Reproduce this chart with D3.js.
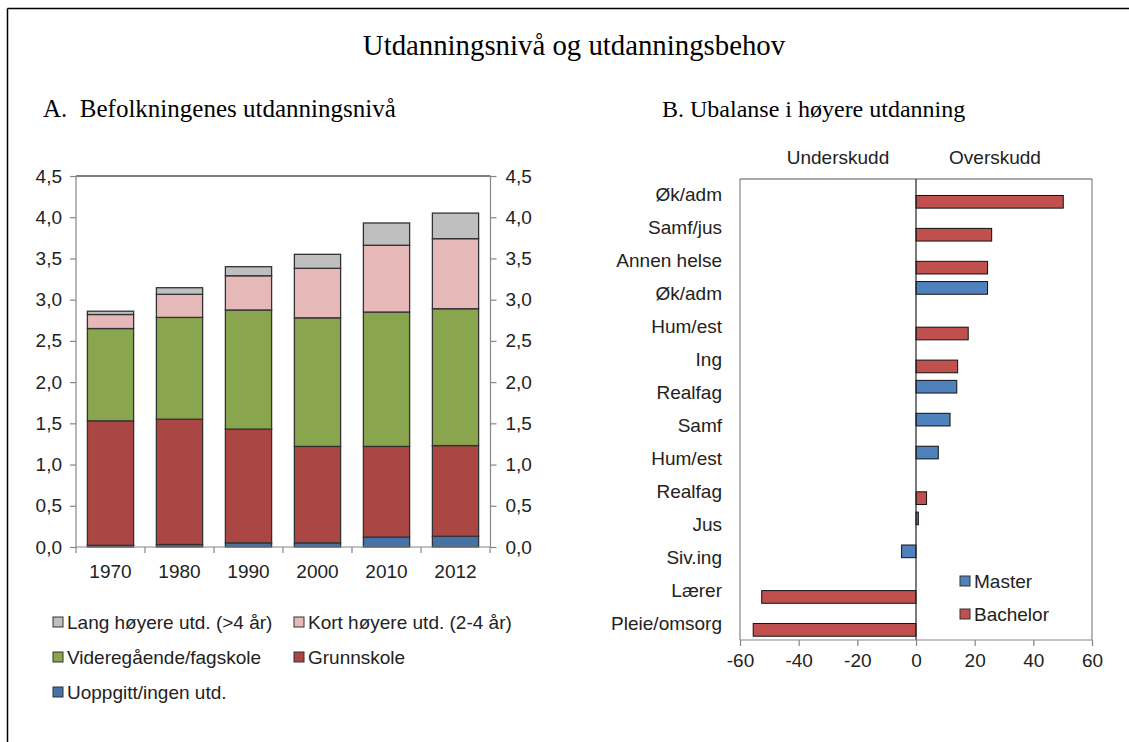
<!DOCTYPE html>
<html>
<head>
<meta charset="utf-8">
<script src="https://cdn.jsdelivr.net/npm/d3@7"></script>
<style>
  body { margin: 0; background: #fff; }
  svg { display: block; }
  .serif { font-family: "Liberation Serif", "Times New Roman", serif; fill: #000; }
  .sans { font-family: "Liberation Sans", Arial, sans-serif; fill: #222; font-size: 19px; }
</style>
</head>
<body>
<div id="chart"></div>
<script>
// panel A
var years = ["1970", "1980", "1990", "2000", "2010", "2012"];
var uoppgitt = [0.02, 0.03, 0.05, 0.05, 0.12, 0.13];
var grunnskole = [1.51, 1.52, 1.38, 1.17, 1.10, 1.10];
var videregaende = [1.12, 1.235, 1.445, 1.56, 1.63, 1.66];
var kortHoyere = [0.17, 0.28, 0.415, 0.60, 0.81, 0.85];
var langHoyere = [0.04, 0.08, 0.11, 0.17, 0.27, 0.31];
var yTicksA = [0, 0.5, 1, 1.5, 2, 2.5, 3, 3.5, 4, 4.5];

// panel B
var fag = ["Øk/adm", "Samf/jus", "Annen helse", "Øk/adm", "Hum/est", "Ing", "Realfag",
    "Samf", "Hum/est", "Realfag", "Jus", "Siv.ing", "Lærer", "Pleie/omsorg"];
var master = [null, null, null, 24.4, null, null, 13.9, 11.6, 7.6, null, 0.8, -4.9, null, null];
var bachelor = [50.2, 25.8, 24.4, null, 17.8, 14.2, null, null, null, 3.6, null, null, -52.6, -55.5];
var xTicksB = [-60, -40, -20, 0, 20, 40, 60];

var width = 1129, height = 742;

var svg = d3.select("#chart").append("svg")
    .attr("width", width)
    .attr("height", height);

// outer frame (top + left)
svg.append("line").attr("x1", 7.5).attr("x2", width).attr("y1", 8.5).attr("y2", 8.5)
    .style("stroke", "#000").style("stroke-width", 1.5);
svg.append("line").attr("x1", 7.5).attr("x2", 7.5).attr("y1", 8.5).attr("y2", height)
    .style("stroke", "#000").style("stroke-width", 1.5);

svg.append("text").attr("class", "serif")
    .attr("x", 574).attr("y", 55)
    .attr("text-anchor", "middle")
    .style("font-size", "28.8px")
    .text("Utdanningsnivå og utdanningsbehov");

svg.append("text").attr("class", "serif")
    .attr("x", 43).attr("y", 117)
    .style("font-size", "25px")
    .style("white-space", "pre")
    .text("A.  Befolkningenes utdanningsnivå");

svg.append("text").attr("class", "serif")
    .attr("x", 662).attr("y", 117)
    .style("font-size", "24px")
    .style("white-space", "pre")
    .text("B. Ubalanse i høyere utdanning");

var axisGrey = "#868686";

// ---------- Panel A: stacked columns ----------
var seriesA = [
    { key: "uoppgitt", name: "Uoppgitt/ingen utd.", values: uoppgitt, color: "#4572a7" },
    { key: "grunnskole", name: "Grunnskole", values: grunnskole, color: "#aa4643" },
    { key: "videregaende", name: "Videregående/fagskole", values: videregaende, color: "#89a54e" },
    { key: "kort", name: "Kort høyere utd. (2-4 år)", values: kortHoyere, color: "#e6b9b8" },
    { key: "lang", name: "Lang høyere utd. (>4 år)", values: langHoyere, color: "#bfbfbf" }
];

var rowsA = years.map(function(y, i) {
    var r = { year: y };
    seriesA.forEach(function(s) { r[s.key] = s.values[i]; });
    return r;
});

var stackA = d3.stack().keys(seriesA.map(function(s) { return s.key; }))(rowsA);

var xA = d3.scaleBand().domain(years).range([76, 490])
    .paddingInner(0.33).paddingOuter(0.165);
var yA = d3.scaleLinear().domain([0, 4.5]).range([547, 176]);

var gA = svg.append("g");

gA.selectAll("g.layer")
    .data(stackA)
    .enter().append("g")
    .attr("class", "layer")
    .style("fill", function(d, i) { return seriesA[i].color; })
    .selectAll("rect")
    .data(function(d) { return d; })
    .enter().append("rect")
    .attr("x", function(d) { return xA(d.data.year); })
    .attr("y", function(d) { return yA(d[1]); })
    .attr("width", xA.bandwidth())
    .attr("height", function(d) { return yA(d[0]) - yA(d[1]); })
    .style("stroke", "#333")
    .style("stroke-width", 1.3);

// plot frame top
gA.append("line").attr("x1", 76).attr("x2", 490.5).attr("y1", 176).attr("y2", 176)
    .style("stroke", "#000").style("stroke-width", 1.2);

var fmtComma = function(d) { return d3.format(".1f")(d).replace(".", ","); };
var yAxisL = d3.axisLeft(yA).tickValues(yTicksA).tickSize(6).tickFormat(fmtComma);
var yAxisR = d3.axisRight(yA).tickValues(yTicksA).tickSize(6).tickFormat(fmtComma);

function styleAxis(g) {
    g.select(".domain").style("stroke", axisGrey).style("stroke-width", 1.2);
    g.selectAll(".tick line").style("stroke", axisGrey).style("stroke-width", 1.2);
    g.selectAll(".tick text").attr("class", "sans").style("font-size", "19px")
        .style("font-family", "'Liberation Sans', Arial, sans-serif").style("fill", "#222");
}

gA.append("g").attr("transform", "translate(76,0)").call(yAxisL)
    .call(styleAxis)
    .call(function(g) {
        g.select(".domain").attr("d", "M0," + yA(4.5) + "V" + yA(0));
        g.selectAll(".tick text").attr("x", -14);
    });
gA.append("g").attr("transform", "translate(490.5,0)").call(yAxisR)
    .call(styleAxis)
    .call(function(g) {
        g.select(".domain").attr("d", "M0," + yA(4.5) + "V" + yA(0));
        g.selectAll(".tick text").attr("x", 15);
    });

// bottom axis with ticks between categories
gA.append("line").attr("x1", 76).attr("x2", 490.5).attr("y1", yA(0)).attr("y2", yA(0))
    .style("stroke", axisGrey).style("stroke-width", 1.2);
gA.selectAll("line.catTick")
    .data(d3.range(years.length + 1))
    .enter().append("line")
    .attr("class", "catTick")
    .attr("x1", function(i) { return xA.range()[0] + i * xA.step(); })
    .attr("x2", function(i) { return xA.range()[0] + i * xA.step(); })
    .attr("y1", yA(0)).attr("y2", yA(0) + 6)
    .style("stroke", axisGrey).style("stroke-width", 1.2);
gA.selectAll("text.year")
    .data(years)
    .enter().append("text")
    .attr("class", "sans")
    .attr("x", function(d) { return xA(d) + xA.bandwidth() / 2; })
    .attr("y", 578)
    .attr("text-anchor", "middle")
    .text(function(d) { return d; });

// legend A
var legendA = [
    { s: seriesA[4], x: 53, y: 622 },
    { s: seriesA[3], x: 294, y: 622 },
    { s: seriesA[2], x: 53, y: 657 },
    { s: seriesA[1], x: 294, y: 657 },
    { s: seriesA[0], x: 53, y: 692 }
];
var lgA = gA.selectAll("g.lgA").data(legendA).enter().append("g")
    .attr("transform", function(d) { return "translate(" + d.x + "," + d.y + ")"; });
lgA.append("rect").attr("x", 0).attr("y", -5).attr("width", 10).attr("height", 10)
    .style("fill", function(d) { return d.s.color; })
    .style("stroke", "#333").style("stroke-width", 1);
lgA.append("text").attr("class", "sans").attr("x", 14).attr("y", 7)
    .text(function(d) { return d.s.name; });

// ---------- Panel B: horizontal bars ----------
var idx = d3.range(fag.length);
var yB = d3.scaleBand().domain(idx).range([179, 640]);
var subB = d3.scaleBand().domain(["master", "bachelor"]).range([0, yB.bandwidth()])
    .paddingOuter(0.3);
var xB = d3.scaleLinear().domain([-60, 60]).range([740, 1092]);

var gB = svg.append("g");

// frame
gB.append("line").attr("x1", 740).attr("x2", 1092).attr("y1", 179).attr("y2", 179)
    .style("stroke", "#555").style("stroke-width", 1.2);
gB.append("line").attr("x1", 1092).attr("x2", 1092).attr("y1", 179).attr("y2", 640)
    .style("stroke", axisGrey).style("stroke-width", 1.2);
gB.append("line").attr("x1", 740).attr("x2", 740).attr("y1", 179).attr("y2", 640)
    .style("stroke", axisGrey).style("stroke-width", 1.2);

var barsB = [];
idx.forEach(function(i) {
    if (master[i] != null) barsB.push({ i: i, s: "master", v: master[i] });
    if (bachelor[i] != null) barsB.push({ i: i, s: "bachelor", v: bachelor[i] });
});
var colB = { master: "#4f81bd", bachelor: "#c0504d" };

gB.selectAll("rect.bar")
    .data(barsB)
    .enter().append("rect")
    .attr("class", "bar")
    .attr("x", function(d) { return xB(Math.min(0, d.v)); })
    .attr("y", function(d) { return yB(d.i) + subB(d.s); })
    .attr("width", function(d) { return Math.abs(xB(d.v) - xB(0)); })
    .attr("height", subB.bandwidth())
    .style("fill", function(d) { return colB[d.s]; })
    .style("stroke", "#111").style("stroke-width", 1);

// zero line
gB.append("line").attr("x1", xB(0)).attr("x2", xB(0)).attr("y1", 179).attr("y2", 640)
    .style("stroke", "#222").style("stroke-width", 1.2);

var xAxisB = d3.axisBottom(xB).tickValues(xTicksB).tickSize(6)
    .tickFormat(function(d) { return String(d); });
gB.append("g").attr("transform", "translate(0,640)").call(xAxisB)
    .call(styleAxis)
    .call(function(g) {
        g.select(".domain").attr("d", "M740,0H1092");
        g.selectAll(".tick text").attr("y", 14).attr("dy", "0.71em");
    });

gB.selectAll("text.fag")
    .data(idx)
    .enter().append("text")
    .attr("class", "sans")
    .attr("x", 722)
    .attr("y", function(i) { return yB(i) + yB.bandwidth() / 2 + 6; })
    .attr("text-anchor", "end")
    .text(function(i) { return fag[i]; });

gB.append("text").attr("class", "sans").attr("x", 838).attr("y", 164)
    .attr("text-anchor", "middle").text("Underskudd");
gB.append("text").attr("class", "sans").attr("x", 995).attr("y", 164)
    .attr("text-anchor", "middle").text("Overskudd");

// legend B
var legendB = [
    { s: "master", name: "Master", y: 581 },
    { s: "bachelor", name: "Bachelor", y: 614 }
];
var lgB = gB.selectAll("g.lgB").data(legendB).enter().append("g")
    .attr("transform", function(d) { return "translate(960," + d.y + ")"; });
lgB.append("rect").attr("x", 0).attr("y", -5).attr("width", 10).attr("height", 10)
    .style("fill", function(d) { return colB[d.s]; })
    .style("stroke", "#333").style("stroke-width", 1);
lgB.append("text").attr("class", "sans").attr("x", 14).attr("y", 7)
    .text(function(d) { return d.name; });
</script>
</body>
</html>
